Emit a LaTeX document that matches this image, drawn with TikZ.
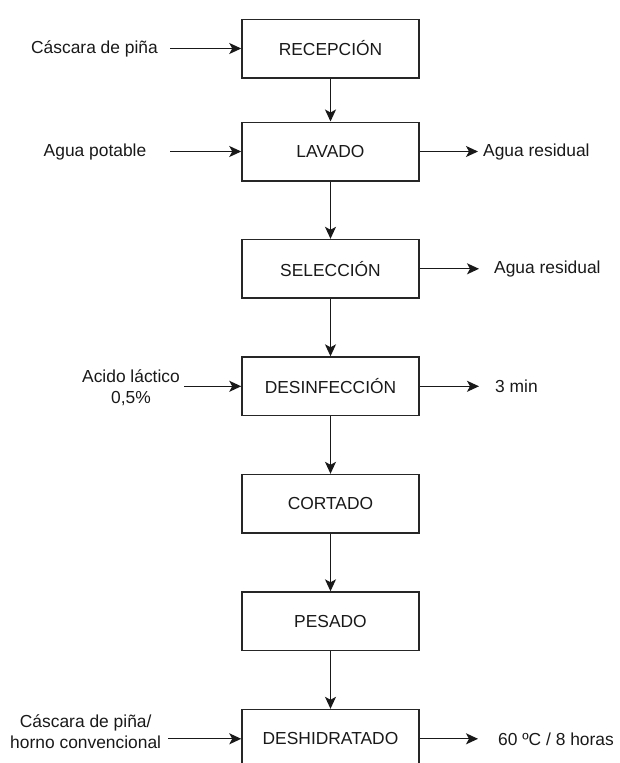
\documentclass[tikz,border=0pt]{standalone}
\usepackage{fontspec}
\setmainfont{Liberation Sans}
\usetikzlibrary{arrows.meta}

\tikzset{
  txt/.style={font=\fontsize{17.4}{20.5}\selectfont, text=black!90},
  stepbox/.style={txt, draw=black!85, line width=1.5pt, minimum width=177pt,
    minimum height=58.5pt, inner sep=0pt},
  lbl/.style={txt, inner sep=0pt, align=center},
  flow/.style={draw=black!90, line width=1.3pt,
    -{Stealth[length=12pt, width=11pt, inset=3pt]}}
}

\begin{document}
\begin{tikzpicture}[x=1pt, y=-1pt]
\useasboundingbox (0,0) rectangle (620,763);

% process steps
\node[stepbox] (rec) at (330.5,48.5)  {RECEPCIÓN};
\node[stepbox] (lav) at (330.5,151.5) {LAVADO};
\node[stepbox] (sel) at (330.5,268.8) {SELECCIÓN};
\node[stepbox] (des) at (330.5,386.3) {DESINFECCIÓN};
\node[stepbox] (cor) at (330.5,503.8) {CORTADO};
\node[stepbox] (pes) at (330.5,621.3) {PESADO};
\node[stepbox] (deh) at (330.5,738.8) {DESHIDRATADO};

% main flow
\draw[flow] (rec) -- (lav);
\draw[flow] (lav) -- (sel);
\draw[flow] (sel) -- (des);
\draw[flow] (des) -- (cor);
\draw[flow] (cor) -- (pes);
\draw[flow] (pes) -- (deh);

% inputs
\node[lbl] (i1) at (94.5,48.5)  {Cáscara de piña};
\node[lbl] (i2) at (95,151.5)   {Agua potable};
\node[lbl] (i4) at (131,387.5)  {Acido láctico\\0,5\%};
\node[lbl] (i7) at (85.7,731.5) {Cáscara de piña/\\horno convencional};

\coordinate (a1) at (170,48.5);
\coordinate (a2) at (170,151.5);
\coordinate (a4) at (184,386.3);
\coordinate (a7) at (168,738.8);

\draw[flow] (a1) -- (rec);
\draw[flow] (a2) -- (lav);
\draw[flow] (a4) -- (des);
\draw[flow] (a7) -- (deh);

% outputs
\coordinate (b2) at (478,151.5);
\coordinate (b3) at (479,268.8);
\coordinate (b4) at (479,386.3);
\coordinate (b7) at (478,738.8);

\draw[flow] (lav) -- (b2);
\draw[flow] (sel) -- (b3);
\draw[flow] (des) -- (b4);
\draw[flow] (deh) -- (b7);

\node[lbl, anchor=west] (o2) at (483,151.5) {Agua residual};
\node[lbl, anchor=west] (o3) at (494,268.8) {Agua residual};
\node[lbl, anchor=west] (o4) at (495,386.3) {3 min};
\node[lbl, anchor=west] (o7) at (498,738.8) {60 ºC / 8 horas};
\end{tikzpicture}
\end{document}
